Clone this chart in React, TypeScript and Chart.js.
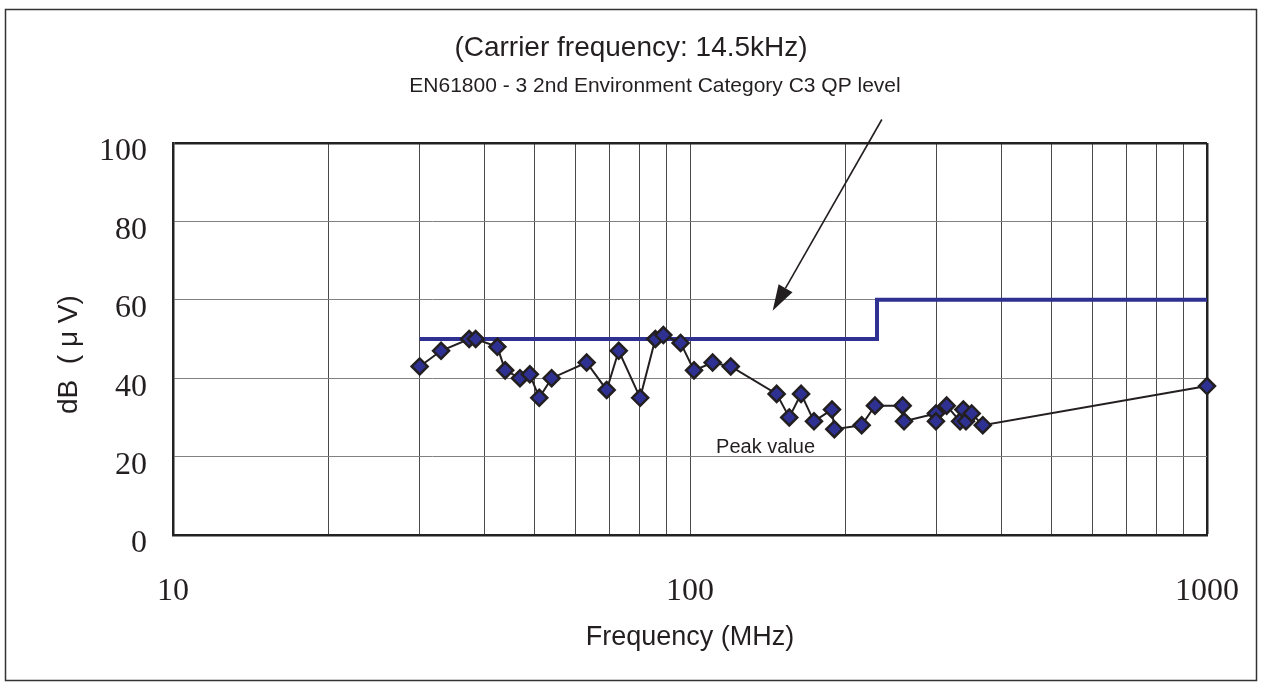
import React, { useEffect, useRef } from 'react';
import { Chart, registerables } from 'chart.js';

Chart.register(...registerables);

// Measured peak emission (frequency in MHz, level in dB(μV))
const peakFreqMHz = [
  30, 33, 37.4, 38.5, 42.4, 43.9, 46.9, 49, 51.1, 54, 63.1, 69, 72.8, 80.1, 85.7, 88.8, 95.9,
  101.8, 110.6, 119.9, 147.1, 155.6, 164, 173.7, 188.2, 190.2, 214.8, 227.9, 257.8, 259.4,
  299, 299, 313.6, 332.9, 337.8, 341.8, 350.6, 368.4, 1000,
];
const peakLevelDb = [
  43, 47, 50, 50, 48, 42, 40, 41, 35, 40, 44, 37, 47, 35, 50, 51, 49,
  42, 44, 43, 36, 30, 36, 29, 32, 27, 28, 33, 33, 29,
  31, 29, 33, 29, 32, 29, 31, 28, 38,
];

// EN61800-3 C3 QP limit
const limitFreqMHz = [30, 230, 230, 1000];
const limitLevelDb = [50, 50, 60, 60];

// Axes
const xTickValues = [10, 20, 30, 40, 50, 60, 70, 80, 90, 100, 200, 300, 400, 500, 600, 700, 800, 900, 1000];
const xTickLabels = [10, 100, 1000];
const yTickValues = [0, 20, 40, 60, 80, 100];

// Texts
const titleText = '(Carrier frequency: 14.5kHz)';
const limitNote = 'EN61800 - 3 2nd Environment Category C3 QP level';
const peakNote = 'Peak value';
const xTitle = 'Frequency (MHz)';
const yTitle = 'dB  ( μ V)    ';

// Annotation anchors in data units
const arrowFrom = { x: 235, y: 106 };
const arrowTo = { x: 144.5, y: 57.2 };
const peakNoteAt = { x: 112.3, y: 22.4 };

const TEXT = '#231f20';
const BLUE = '#2E3192';
const FRAME = '#222';

const overlay = {
  id: 'overlay',
  afterDraw(chart: any) {
    const { ctx } = chart;
    const xs = chart.scales.x;
    const ys = chart.scales.y;
    ctx.save();
    // outer frame
    ctx.strokeStyle = '#333';
    ctx.lineWidth = 1.5;
    ctx.strokeRect(5.5, 9.5, 1251, 671);

    // header texts
    ctx.fillStyle = TEXT;
    ctx.textAlign = 'center';
    ctx.textBaseline = 'middle';
    ctx.font = '28px "Liberation Sans", Arial, sans-serif';
    ctx.fillText(titleText, 631, 48);
    ctx.font = '21px "Liberation Sans", Arial, sans-serif';
    ctx.fillText(limitNote, 655, 86);

    // peak label
    ctx.textAlign = 'left';
    ctx.font = '20px "Liberation Sans", Arial, sans-serif';
    ctx.fillText(peakNote, xs.getPixelForValue(peakNoteAt.x), ys.getPixelForValue(peakNoteAt.y));

    // arrow
    const x1 = xs.getPixelForValue(arrowFrom.x);
    const y1 = ys.getPixelForValue(arrowFrom.y);
    const x2 = xs.getPixelForValue(arrowTo.x);
    const y2 = ys.getPixelForValue(arrowTo.y);
    const ang = Math.atan2(y2 - y1, x2 - x1);
    const headLen = 26;
    const headHalf = 8;
    const bx = x2 - headLen * Math.cos(ang);
    const by = y2 - headLen * Math.sin(ang);
    ctx.strokeStyle = TEXT;
    ctx.lineWidth = 1.6;
    ctx.beginPath();
    ctx.moveTo(x1, y1);
    ctx.lineTo(bx, by);
    ctx.stroke();
    ctx.fillStyle = TEXT;
    ctx.beginPath();
    ctx.moveTo(x2, y2);
    ctx.lineTo(bx + headHalf * Math.sin(ang), by - headHalf * Math.cos(ang));
    ctx.lineTo(bx - headHalf * Math.sin(ang), by + headHalf * Math.cos(ang));
    ctx.closePath();
    ctx.fill();
    ctx.restore();
  },
};

export default function App() {
  const ref = useRef<HTMLCanvasElement | null>(null);

  useEffect(() => {
    if (!ref.current) return;
    const chart = new Chart(ref.current, {
      type: 'scatter',
      data: {
        datasets: [
          {
            label: 'Peak value',
            data: peakFreqMHz.map((f, i) => ({ x: f, y: peakLevelDb[i] })),
            showLine: true,
            borderColor: TEXT,
            borderWidth: 2,
            tension: 0,
            pointStyle: 'rectRot',
            pointRadius: 8,
            pointBackgroundColor: BLUE,
            pointBorderColor: TEXT,
            pointBorderWidth: 2.5,
            clip: false,
          },
          {
            label: 'EN61800-3 C3 QP level',
            data: limitFreqMHz.map((f, i) => ({ x: f, y: limitLevelDb[i] })),
            showLine: true,
            borderColor: BLUE,
            borderWidth: 4,
            pointRadius: 0,
            tension: 0,
            clip: false,
          },
        ],
      },
      options: {
        animation: false,
        responsive: false,
        devicePixelRatio: 1,
        layout: { padding: { top: 143, right: 55, left: 0, bottom: 0 } },
        plugins: {
          legend: { display: false },
          tooltip: { enabled: false },
          title: { display: false },
        },
        scales: {
          x: {
            type: 'logarithmic',
            min: 10,
            max: 1000,
            afterBuildTicks: (scale: any) => {
              scale.ticks = xTickValues.map((v) => ({ value: v }));
            },
            afterFit: (scale: any) => {
              scale.height = 151;
              scale.paddingLeft = 0;
              scale.paddingRight = 0;
            },
            ticks: {
              autoSkip: false,
              maxRotation: 0,
              padding: 37,
              color: TEXT,
              font: { family: '"Liberation Serif", serif', size: 32 },
              callback: (v: any) => (xTickLabels.includes(Number(v)) ? String(v) : ''),
            },
            grid: {
              drawTicks: false,
              color: (c: any) => (c.tick && c.tick.value === 1000 ? FRAME : '#4a4a4a'),
              lineWidth: (c: any) => (c.tick && c.tick.value === 1000 ? 2.5 : 1),
            },
            border: { display: true, color: FRAME, width: 2.5 },
            title: {
              display: true,
              text: xTitle,
              color: TEXT,
              font: { family: '"Liberation Sans", Arial, sans-serif', size: 27 },
              padding: { top: 0, bottom: 32 },
            },
          },
          y: {
            min: 0,
            max: 100,
            afterBuildTicks: (scale: any) => {
              scale.ticks = yTickValues.map((v) => ({ value: v }));
            },
            afterFit: (scale: any) => {
              scale.width = 173;
              scale.paddingTop = 0;
              scale.paddingBottom = 0;
            },
            ticks: {
              padding: 26,
              labelOffset: 9,
              color: TEXT,
              font: { family: '"Liberation Serif", serif', size: 32 },
            },
            grid: {
              drawTicks: false,
              color: (c: any) => (c.tick && c.tick.value === 100 ? FRAME : '#808080'),
              lineWidth: (c: any) => (c.tick && c.tick.value === 100 ? 2.5 : 1),
            },
            border: { display: true, color: FRAME, width: 2.5 },
            title: {
              display: true,
              text: yTitle,
              color: TEXT,
              font: { family: '"Liberation Sans", Arial, sans-serif', size: 28 },
              padding: { top: 52, bottom: 0 },
            },
          },
        },
      },
      plugins: [overlay],
    });
    return () => chart.destroy();
  }, []);

  return (
    <div style={{ position: 'fixed', left: 0, top: 0, width: 1262, height: 686, background: '#fff' }}>
      <canvas ref={ref} width={1262} height={686} style={{ display: 'block' }} />
    </div>
  );
}
